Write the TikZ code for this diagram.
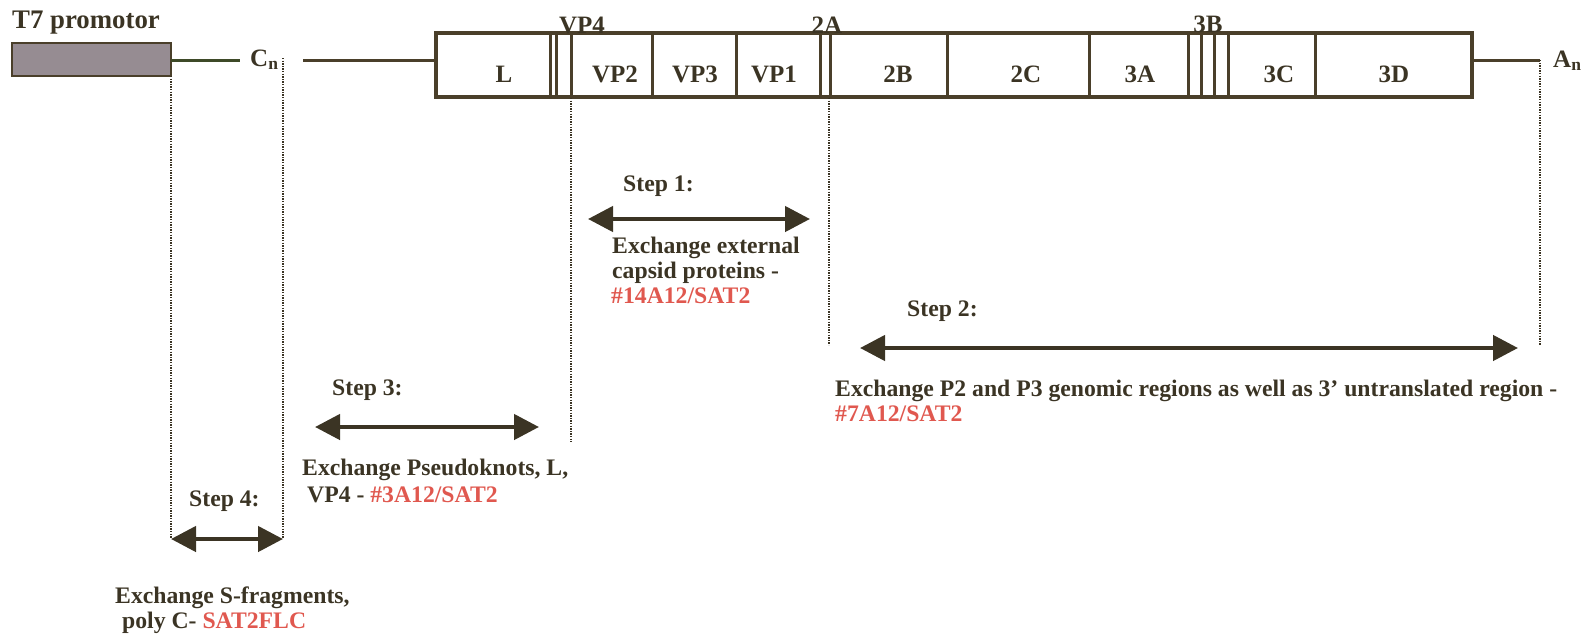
\documentclass[tikz,border=0pt]{standalone}
\usepackage{fontspec}
\setmainfont{Liberation Serif}
\usetikzlibrary{arrows.meta}
\definecolor{ink}{HTML}{3B3424}
\definecolor{redt}{HTML}{E0584F}
\definecolor{boxline}{HTML}{4A3F2A}
\definecolor{promo}{HTML}{968C92}
\definecolor{greenl}{HTML}{3E4A28}
\begin{document}
\begin{tikzpicture}[x=1pt,y=-1pt,
  lbl/.style={font=\bfseries\fontsize{23.7}{28}\selectfont, text=ink, inner sep=0pt, anchor=base west},
  red/.style={text=redt},
  cell/.style={font=\bfseries\fontsize{25}{30}\selectfont, text=ink, inner sep=0pt, anchor=base},
  frame/.style={draw=boxline, line width=3.5pt},
  divider/.style={draw=boxline, line width=3pt},
  tail/.style={draw=boxline, line width=3pt},
  guide/.style={draw=ink, line width=1.3pt, dash pattern=on 1.3pt off 1.3pt},
  steparrow/.style={draw=ink, line width=4.5pt, {Triangle[length=25pt,width=25pt]}-{Triangle[length=25pt,width=25pt]}},
]
\useasboundingbox (0,0) rectangle (1589,640);

% promoter
\draw[draw=boxline, fill=promo, line width=2.5pt] (12,43) rectangle (171,76);
\node[lbl, font=\bfseries\fontsize{26.8}{30}\selectfont] (t7) at (12,28) {T7 promotor};
\coordinate (pr) at (171,60);
\coordinate (pl) at (240,60);
\draw[draw=greenl, line width=3pt] (pr) -- (pl);
\node[cell, anchor=base west] (cn) at (250,66) {C\textsubscript{n}};
\coordinate (ll) at (303,60);
\coordinate (lr) at (436,60);
\draw[tail] (ll) -- (lr);

% genome box
\draw[frame] (436,33) rectangle (1472,97);
\foreach \x in {550,556,571,652,736,820,830,947,1089,1188,1201,1214,1228,1315}
  \draw[divider] (\x,33) -- (\x,97);
\coordinate (rl) at (1472,60);
\coordinate (rr) at (1540,60);
\draw[tail] (rl) -- (rr);
\node[cell, anchor=base west] (an) at (1553,67) {A\textsubscript{n}};

% region labels
\node[cell] (vp4) at (582,33) {VP4};
\node[cell] (l2a) at (827,33) {2A};
\node[cell] (l3b) at (1208,32) {3B};
\node[cell] (cL) at (504,82) {L};
\node[cell] (cVP2) at (615,82) {VP2};
\node[cell] (cVP3) at (695,82) {VP3};
\node[cell] (cVP1) at (774,82) {VP1};
\node[cell] (c2B) at (898,82) {2B};
\node[cell] (c2C) at (1026,82) {2C};
\node[cell] (c3A) at (1140,82) {3A};
\node[cell] (c3C) at (1279,82) {3C};
\node[cell] (c3D) at (1394,82) {3D};

% guide lines
\coordinate (g1t) at (171,76);  \coordinate (g1b) at (171,538);
\coordinate (g2t) at (283,58);  \coordinate (g2b) at (283,538);
\coordinate (g3t) at (571,98);  \coordinate (g3b) at (571,442);
\coordinate (g4t) at (829,98);  \coordinate (g4b) at (829,345);
\coordinate (g5t) at (1540,60); \coordinate (g5b) at (1540,345);
\draw[guide] (g1t) -- (g1b);
\draw[guide] (g2t) -- (g2b);
\draw[guide] (g3t) -- (g3b);
\draw[guide] (g4t) -- (g4b);
\draw[guide] (g5t) -- (g5b);

% step 1
\node[lbl] (s1) at (623,191) {Step 1:};
\coordinate (a1l) at (588,219); \coordinate (a1r) at (810,219);
\draw[steparrow] (a1l) -- (a1r);
\node[lbl] (s1a) at (612,253) {Exchange external};
\node[lbl] (s1b) at (612,278) {capsid proteins -};
\node[lbl, red] (s1c) at (611,303) {\#14A12/SAT2};

% step 2
\node[lbl] (s2) at (907,316) {Step 2:};
\coordinate (a2l) at (860,348); \coordinate (a2r) at (1518,348);
\draw[steparrow] (a2l) -- (a2r);
\node[lbl] (s2a) at (835,396) {Exchange P2 and P3 genomic regions as well as 3’ untranslated region -};
\node[lbl, red] (s2b) at (835,421) {\#7A12/SAT2};

% step 3
\node[lbl] (s3) at (332,395) {Step 3:};
\coordinate (a3l) at (315,427); \coordinate (a3r) at (539,427);
\draw[steparrow] (a3l) -- (a3r);
\node[lbl] (s3a) at (302,475) {Exchange Pseudoknots, L,};
\node[lbl] (s3b) at (307,502) {VP4 - {\color{redt}\#3A12/SAT2}};

% step 4
\node[lbl] (s4) at (189,506) {Step 4:};
\coordinate (a4l) at (171,539); \coordinate (a4r) at (283,539);
\draw[steparrow] (a4l) -- (a4r);
\node[lbl] (s4a) at (115,603) {Exchange S-fragments,};
\node[lbl] (s4b) at (122,628) {poly C- {\color{redt}SAT2FLC}};
\end{tikzpicture}
\end{document}
